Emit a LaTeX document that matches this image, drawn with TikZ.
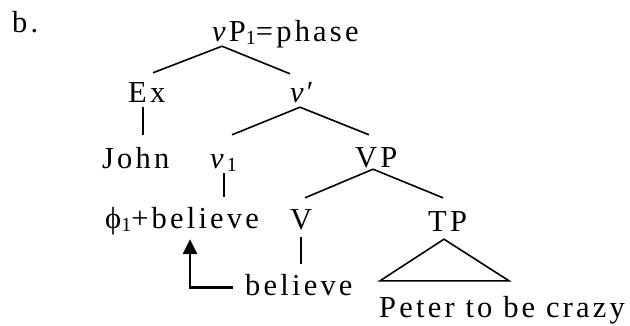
\documentclass[tikz,border=0pt]{standalone}
\usepackage{fontspec}
\setmainfont{Liberation Serif}[LetterSpace=10.5]
\usetikzlibrary{arrows.meta,positioning,calc}

\newcommand{\lowidx}[1]{\raisebox{-3pt}{\fontsize{20}{20}\selectfont #1}}

\begin{document}
\begin{tikzpicture}[x=1pt,y=-1pt,
	lbl/.style={inner sep=0pt, anchor=base west, text height=20pt, text depth=5pt, font=\fontsize{30.5}{36}\selectfont},
	branch/.style={line width=1.6pt},
	mover/.style={line width=2.6pt, -{Triangle[length=15pt,width=14pt]}}]
	\useasboundingbox (0,0) rectangle (630,325);
	
	\node[lbl] (item) at (12,32) {b.};
	\node[lbl] (root) at (212,41) {\textit{v}P\lowidx{1}=phase};
	\node[lbl] (ex) at (128,102) {Ex};
	\node[lbl] (vbar) at (290,102) {\textit{v}′};
	\node[lbl] (john) at (102,168) {John};
	\node[lbl] (vone) at (210,168) {\textit{v}\lowidx{1}};
	\node[lbl] (vp) at (355,167) {VP};
	\node[lbl] (phibel) at (105,228) {ϕ\lowidx{1}+believe};
	\node[lbl] (verb) at (290,229) {V};
	\node[lbl] (tp) at (428,231) {TP};
	\node[lbl] (bel) at (245,295) {believe};
	\node[lbl] (peter) at (379,317) {Peter to be crazy};
	
	\draw[branch] ($(root.south west)+(10,0)$) -- ($(ex.north west)+(25,-9)$);
	\draw[branch] ($(root.south west)+(10,0)$) -- ($(vbar.north west)+(0,-8)$);
	\draw[branch] ($(ex.south west)+(15,0)$) -- ($(john.north west)+(41,-13)$);
	\draw[branch] ($(vbar.south west)+(10,0)$) -- ($(vone.north west)+(22,-13)$);
	\draw[branch] ($(vbar.south west)+(10,0)$) -- ($(vp.north west)+(14,-12)$);
	\draw[branch] ($(vone.south west)+(14,0)$) -- ($(phibel.north west)+(119,-11)$);
	\draw[branch] ($(vp.south west)+(18,-3)$) -- ($(verb.north west)+(15,-11)$);
	\draw[branch] ($(vp.south west)+(18,-3)$) -- ($(tp.north west)+(15,-13)$);
	\draw[branch] ($(verb.south west)+(11,3)$) -- ($(bel.north west)+(56,-11)$);
	\draw[branch] ($(tp.south west)+(16,3)$) -- ($(peter.north west)+(1,-16)$) -- ($(peter.north west)+(130,-16)$) -- cycle;
	
	% head movement
	\draw[mover] ($(bel.west)+(-12,0)$) -| ($(phibel.south west)+(85,6)$);
\end{tikzpicture}
\end{document}
